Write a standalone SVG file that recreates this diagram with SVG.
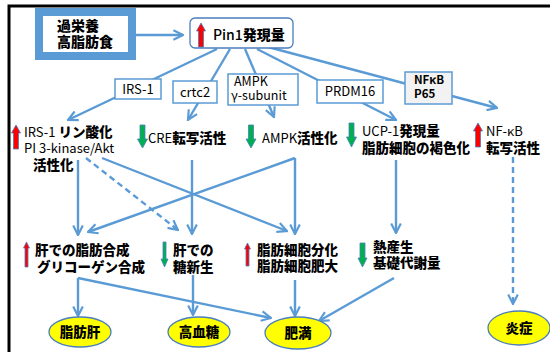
<svg xmlns="http://www.w3.org/2000/svg" width="550" height="352" viewBox="0 0 550 352">
<style>
text{font-family:"Noto Sans CJK JP","Noto Sans",sans-serif;fill:#000}
.b{font-weight:900}
.n{font-weight:400}
.j{font-size:13.5px}
.l{font-size:13px}
.c{stroke:#5b9bd5;stroke-width:2.4;fill:none}
.d{stroke-dasharray:6 4}
.bx{fill:#fff;stroke:#5b9bd5;stroke-width:1.5}
.el{fill:#ffff00;stroke:#4a7ebb;stroke-width:1.3}
.up{fill:#ff0000;stroke:#4a7ebb;stroke-width:0.8}
.dn{fill:#00b050;stroke:#4a7ebb;stroke-width:0.8}
</style>
<defs>
<marker id="ah" viewBox="0 0 10 10" refX="9" refY="5" markerWidth="12" markerHeight="12" markerUnits="userSpaceOnUse" orient="auto">
<path d="M1,1 L9,5 L1,9" fill="none" stroke="#5b9bd5" stroke-width="1.8"/>
</marker>
</defs>
<rect width="550" height="352" fill="#fff"/>
<path d="M9,352 V6 H550" fill="none" stroke="#000" stroke-width="3"/>

<g id="connectors">
<path class="c" d="M136,35 H183" marker-end="url(#ah)"/>
<path class="c" d="M217,49 L68,120" marker-end="url(#ah)"/>
<path class="c" d="M230,49 L188,120" marker-end="url(#ah)"/>
<path class="c" d="M245,49 L274,117" marker-end="url(#ah)"/>
<path class="c" d="M257,49 L396,120" marker-end="url(#ah)"/>
<path class="c" d="M268,47 L497,108" marker-end="url(#ah)"/>
<path class="c" d="M78,160 V235" marker-end="url(#ah)"/>
<path class="c d" d="M86,158 L178,230" marker-end="url(#ah)"/>
<path class="c" d="M102,158 L287,231" marker-end="url(#ah)"/>
<path class="c" d="M192,160 V234" marker-end="url(#ah)"/>
<path class="c" d="M295,158 L88,232" marker-end="url(#ah)"/>
<path class="c" d="M295,158 V234" marker-end="url(#ah)"/>
<path class="c" d="M396,160 V233" marker-end="url(#ah)"/>
<path class="c d" d="M513,157 V304" marker-end="url(#ah)"/>
<path class="c" d="M78,278 V316" marker-end="url(#ah)"/>
<path class="c" d="M78,278 L271,318" marker-end="url(#ah)"/>
<path class="c" d="M193,275 V315" marker-end="url(#ah)"/>
<path class="c" d="M295,280 V316" marker-end="url(#ah)"/>
<path class="c" d="M394,278 L319,321" marker-end="url(#ah)"/>
</g>

<g id="diet">
<rect x="39" y="12" width="93" height="44" fill="#fff" stroke="#5b9bd5" stroke-width="8"/>
<text class="b" x="57" y="31" font-size="14">過栄養</text>
<text class="b" x="57" y="47" font-size="14">高脂肪食</text>
</g>

<g id="pin1">
<rect x="190" y="18" width="103" height="30" rx="5" fill="#fff" stroke="#4a7ebb" stroke-width="1.3"/>
<path class="up" d="M201,23 L205.5,31 L203.5,31 L203.5,47 L198.5,47 L198.5,31 L196.5,31 Z"/>
<text x="213" y="40" font-size="14"><tspan font-weight="500">Pin1</tspan><tspan class="b">発現量</tspan></text>
</g>

<g id="irs1-box"><rect class="bx" x="115" y="79" width="46" height="20"/><text class="n l" x="138" y="94" text-anchor="middle">IRS-1</text></g>
<g id="crtc2-box"><rect class="bx" x="173" y="81" width="44" height="22"/><text class="n l" x="195" y="97" text-anchor="middle">crtc2</text></g>
<g id="ampk-box"><rect class="bx" x="228" y="74" width="70" height="31"/><text class="n" font-size="12.5" x="234" y="86">AMPK</text><text class="n" font-size="12.5" x="231" y="100">γ-subunit</text></g>
<g id="prdm16-box"><rect class="bx" x="317" y="80" width="66" height="23"/><text class="n l" x="350" y="96" text-anchor="middle">PRDM16</text></g>
<g id="nfkb-box"><rect x="405" y="72" width="47" height="32" fill="#f2f2f2" stroke="#5b9bd5" stroke-width="1.5"/><text x="414" y="84" font-size="11.5" font-weight="600">NFκB</text><text x="414" y="98" font-size="11.5" font-weight="600">P65</text></g>

<g id="irs1-act">
<path class="up" d="M16,125 L20.5,133 L18.5,133 L18.5,149 L13.5,149 L13.5,133 L11.5,133 Z"/>
<text x="24" y="137" class="j"><tspan class="n" font-size="13">IRS-1 </tspan><tspan class="b">リン酸化</tspan></text>
<text x="24" y="153" class="n l">PI 3-kinase/Akt</text>
<text x="33" y="170" class="b j">活性化</text>
</g>
<g id="cre">
<path class="dn" d="M140,125 L145,125 L145,139 L147.5,139 L142.5,148 L137.5,139 L140,139 Z"/>
<text x="148" y="143" class="j"><tspan class="n" font-size="13">CRE</tspan><tspan class="b">転写活性</tspan></text>
</g>
<g id="ampk-act">
<path class="dn" d="M248.5,125 L253.5,125 L253.5,139 L256,139 L251,148 L246,139 L248.5,139 Z"/>
<text x="262" y="143" class="j"><tspan class="n" font-size="13">AMPK</tspan><tspan class="b">活性化</tspan></text>
</g>
<g id="ucp1">
<path class="dn" d="M349,123 L354,123 L354,137 L356.5,137 L351.5,147 L346.5,137 L349,137 Z"/>
<text x="362" y="136" class="j"><tspan class="n" font-size="13">UCP-1</tspan><tspan class="b">発現量</tspan></text>
<text x="362" y="153" class="b j">脂肪細胞の褐色化</text>
</g>
<g id="nfkb-act">
<path class="up" d="M478,123 L482.5,131 L480.5,131 L480.5,147 L475.5,147 L475.5,131 L473.5,131 Z"/>
<text x="486" y="136" class="n l">NF-κB</text>
<text x="486" y="153" class="b j">転写活性</text>
</g>

<g id="liver-fat">
<path class="up" d="M26.5,242 L29.5,248 L28,248 L28,267 L25,267 L25,248 L23.5,248 Z"/>
<text x="35" y="255" class="b j">肝での脂肪合成</text>
<text x="37" y="272" class="b j">グリコーゲン合成</text>
</g>
<g id="gluconeo">
<path class="dn" d="M163,242 L166,242 L166,259 L168,259 L164.5,267 L161,259 L163,259 Z"/>
<text x="173" y="255" class="b j">肝での</text>
<text x="173" y="272" class="b j">糖新生</text>
</g>
<g id="adipocyte">
<path class="up" d="M247.5,243 L250.5,249 L249,249 L249,266 L246,266 L246,249 L244.5,249 Z"/>
<text x="257" y="255" class="b j">脂肪細胞分化</text>
<text x="257" y="271" class="b j">脂肪細胞肥大</text>
</g>
<g id="thermo">
<path class="dn" d="M360,243 L365,243 L365,258 L367,258 L362.5,267 L358,258 L360,258 Z"/>
<text x="373" y="252" class="b j">熱産生</text>
<text x="373" y="268" class="b j">基礎代謝量</text>
</g>

<g id="fatty-liver"><ellipse class="el" cx="80" cy="332" rx="31" ry="15"/><text class="b j" x="80" y="337" text-anchor="middle">脂肪肝</text></g>
<g id="hyperglycemia"><ellipse class="el" cx="199" cy="332" rx="31" ry="15"/><text class="b j" x="199" y="337" text-anchor="middle">高血糖</text></g>
<g id="obesity"><ellipse class="el" cx="298" cy="333" rx="33" ry="16"/><text class="b j" x="298" y="338" text-anchor="middle">肥満</text></g>
<g id="inflammation"><ellipse class="el" cx="519" cy="328" rx="31" ry="17"/><text class="b j" x="519" y="333" text-anchor="middle">炎症</text></g>
</svg>
